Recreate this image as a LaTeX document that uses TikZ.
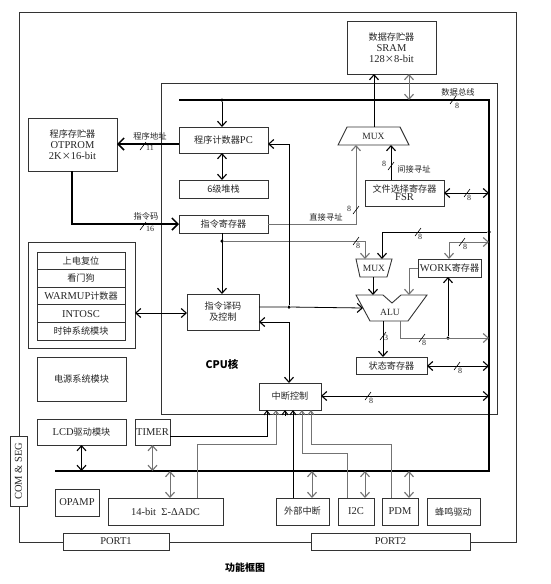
\documentclass[tikz,border=0pt]{standalone}
\usepackage{fontspec}
\setmainfont{Liberation Serif}
\newfontfamily\cjk{Noto Sans CJK SC}[Scale=0.87]
\newfontfamily\cjkb{Noto Sans CJK SC}
\usetikzlibrary{arrows.meta}
\newcommand\zh[1]{{\cjk #1}}
\newcommand\tickmark[2]{\draw[line width=0.6pt] ([shift={(-3,4)}]#1,#2) -- ([shift={(3,-4)}]#1,#2);}
\tikzset{
  box/.style={draw=black!80, line width=0.9pt, inner sep=0pt, outer sep=0pt, align=center, fill=white, text=black!85},
  frame/.style={draw=black!80, line width=0.8pt},
  ln/.style={line width=0.8pt, draw=black},
  gl/.style={line width=0.8pt, draw=black!55},
  busline/.style={line width=2.8pt, line join=miter},
  arr/.style={-{Straight Barb[length=5pt,width=9pt,line width=1.1pt]}},
  darr/.style={{Straight Barb[length=5pt,width=9pt,line width=1.1pt]}-{Straight Barb[length=5pt,width=9pt,line width=1.1pt]}},
  sarr/.style={-{Straight Barb[length=4pt,width=6pt,line width=1pt]}},
  tarr/.style={line width=2.8pt, -{Straight Barb[length=6pt,width=12pt,line width=1.5pt]}},
  dotn/.style={circle, fill=black, inner sep=0pt, minimum size=3.5pt},
  lbl/.style={font=\fontsize{9.5}{10.5}\selectfont, inner sep=0pt, text=black!85},
  num/.style={font=\fontsize{8}{9}\selectfont, inner sep=0pt, text=black!85},
}
\begin{document}
\begin{tikzpicture}[x=1pt,y=-1pt, font=\fontsize{10.5}{11}\selectfont]
\useasboundingbox (0,0) rectangle (551,584);

% outer frame and ports
\draw[frame] (19,12) rectangle (516,542);
\node[box, minimum width=106pt, minimum height=17pt] (port1) at (116,541.5) {PORT1};
\node[box, minimum width=159pt, minimum height=17pt] (port2) at (390.5,541.5) {PORT2};
\node[box, rotate=90, minimum width=70pt, minimum height=17pt] (com) at (18.5,471) {COM \& SEG};
\node[font=\cjkb\bfseries\fontsize{10}{12}\selectfont] (title) at (245,568) {功能框图};

% CPU core frame
\draw[frame] (161,83) rectangle (497,414);
\node[font=\cjkb\bfseries\fontsize{10.5}{12}\selectfont] (cpu) at (222,364) {CPU核};

% data bus
\coordinate (bTL) at (179,100);
\coordinate (bTR) at (489,100);
\coordinate (bBR) at (489,471);
\coordinate (bBL) at (55,471);
\draw[busline] (bTL) -- (bTR) -- (bBR) -- (bBL);
\node[lbl] (buslbl) at (458,92) {\zh{数据总线}};
\tickmark{453}{100}
\node[num] at (457,106) {8};

% memories
\node[box, minimum width=89pt, minimum height=53pt] (sram) at (391.5,47.5) {\zh{数据存贮器}\\SRAM\\128\zh{×}8-bit};
\node[box, minimum width=89pt, minimum height=53pt] (otp) at (72.5,144.5) {\zh{程序存贮器}\\OTPROM\\2K\zh{×}16-bit};

% CPU blocks
\node[box, minimum width=89pt, minimum height=26pt] (pc) at (223.5,140) {\zh{程序计数器}PC};
\node[box, minimum width=89pt, minimum height=18pt] (stack) at (223.5,189) {\zh{6级堆栈}};
\node[box, minimum width=89pt, minimum height=18pt] (ir) at (223.5,224) {\zh{指令寄存器}};
\node[box, minimum width=79pt, minimum height=26pt] (fsr) at (404.5,193) {\zh{文件选择寄存器}\\[-3pt]FSR};
\node[box, minimum width=72pt, minimum height=36pt] (dec) at (223,312) {\zh{指令译码}\\\zh{及控制}};
\node[box, minimum width=63pt, minimum height=18pt] (work) at (449.5,268) {WORK\zh{寄存器}};
\node[box, minimum width=71pt, minimum height=17pt] (stat) at (391.5,365.5) {\zh{状态寄存器}};
\node[box, minimum width=62pt, minimum height=27pt] (intc) at (290,396.5) {\zh{中断控制}};

% MUX 1
\draw[box] (347,127) -- (400,127) -- (409,145) -- (338,145) -- cycle;
\node[lbl] (mux1) at (373.5,136) {MUX};
\coordinate (m1top) at (374,127);
\coordinate (m1a) at (356,145);
\coordinate (m1b) at (391,145);
% MUX 2
\draw[box] (356,259) -- (392,259) -- (387,277) -- (360,277) -- cycle;
\node[lbl] (mux2) at (374,268) {MUX};
\coordinate (m2a) at (365,259);
\coordinate (m2b) at (382,259);
\coordinate (m2o) at (373,277);
% ALU
\draw[box] (356,295) -- (383,295) -- (392,303) -- (401,295) -- (427,295) -- (408,321) -- (370,321) -- cycle;
\node[lbl] (alu) at (390,312) {ALU};
\coordinate (alua) at (373,295);
\coordinate (alub) at (409,295);
\coordinate (aluin) at (363,308);
\coordinate (aluo1) at (383,321);
\coordinate (aluo2) at (400,321);

% clock group
\node[box, minimum width=107pt, minimum height=106pt] (clk) at (81.5,295) {};
\node[box, minimum width=88pt, minimum height=17.6pt] (r1) at (81,260.8) {\zh{上电复位}};
\node[box, minimum width=88pt, minimum height=17.6pt] (r2) at (81,278.4) {\zh{看门狗}};
\node[box, minimum width=88pt, minimum height=17.6pt] (r3) at (81,296) {WARMUP\zh{计数器}};
\node[box, minimum width=88pt, minimum height=17.6pt] (r4) at (81,313.6) {INTOSC};
\node[box, minimum width=88pt, minimum height=17.6pt] (r5) at (81,331.2) {\zh{时钟系统模块}};
\node[box, minimum width=89pt, minimum height=44pt] (pwr) at (81.5,379) {\zh{电源系统模块}};

% peripherals
\node[box, minimum width=89pt, minimum height=26pt] (lcd) at (81.5,432) {LCD\zh{驱动模块}};
\node[box, minimum width=35pt, minimum height=26pt] (timer) at (152.5,432) {TIMER};
\node[box, minimum width=44pt, minimum height=27pt] (opamp) at (77,502.5) {OPAMP};
\node[box, minimum width=115pt, minimum height=27pt] (adc) at (165.5,511.5) {14-bit\ \ Σ-ΔADC};
\node[box, minimum width=53pt, minimum height=27pt] (ext) at (302.5,511.5) {\zh{外部中断}};
\node[box, minimum width=36pt, minimum height=27pt] (i2c) at (356,511.5) {I2C};
\node[box, minimum width=36pt, minimum height=27pt] (pdm) at (400,511.5) {PDM};
\node[box, minimum width=53pt, minimum height=27pt] (buzz) at (453.5,511.5) {\zh{蜂鸣驱动}};

% ---- connectors ----
% bus -> PC
\node[dotn] (d1) at (222,100) {};
\draw[ln,arr] (d1) -- (d1 |- pc.north);
% SRAM <-> bus
\coordinate (sb) at (409,100);
\draw[gl,darr] (sb |- sram.south) -- (sb);
% MUX1 -> SRAM
\draw[ln,arr] (m1top) -- (m1top |- sram.south);
% PC -> OTPROM (program address)
\coordinate (pa) at (179,144);
\draw[tarr] (pa) -- (pa -| otp.east);
\node[lbl] at (150,136) {\zh{程序地址}};
\tickmark{143}{146}
\node[num] at (150,148) {11};
% OTPROM -> IR (instruction code)
\coordinate (ic) at (72,224);
\draw[tarr] (otp.south -| ic) -- (ic) -- (ic -| ir.west);
\node[lbl] at (146,216) {\zh{指令码}};
\tickmark{143}{226}
\node[num] at (150,229) {16};
% PC <-> stack
\coordinate (ps) at (222,153);
\draw[ln,darr] (ps |- pc.south) -- (ps |- stack.north);
% IR -> MUX1 (direct address)
\coordinate (ir1) at (268,224);
\draw[gl,arr] (ir1) -- (ir1 -| m1a) -- (m1a);
\node[lbl] at (326,217) {\zh{直接寻址}};
\tickmark{356}{210}
\node[num] at (349,209) {8};
% FSR -> MUX1 (indirect)
\draw[ln,arr] (m1b |- fsr.north) -- (m1b);
\tickmark{391}{166}
\node[num] at (384,164) {8};
\node[lbl] at (414,169) {\zh{间接寻址}};
% FSR <-> bus
\coordinate (fb) at (489,193);
\draw[ln,darr] (fsr.east) -- (fb);
\tickmark{467}{193}
\node[num] at (469,198) {8};
% IR -> decoder
\node[dotn] (d2) at (222,241) {};
\draw[ln,arr] (d2 |- ir.south) -- (d2 |- dec.north);
% IR -> MUX2
\draw[gl,arr] (d2) -- (d2 -| m2a) -- (m2a);
\tickmark{356}{241}
\node[num] at (358,246) {8};
% bus -> MUX2
\node[dotn] (d3) at (489,232) {};
\draw[ln,arr] (d3) -- (d3 -| m2b) -- (m2b);
\tickmark{418}{232}
\node[num] at (420,237) {8};
% bus <-> WORK
\coordinate (wb) at (489,242);
\coordinate (wt) at (449,242);
\draw[gl,darr] (wb) -- (wt) -- (wt |- work.north);
\tickmark{462}{242}
\node[num] at (465,247) {8};
% WORK -> ALU
\coordinate (wl) at (409,268);
\draw[gl,arr] (work.west) -- (wl) -- (alub);
% MUX2 -> ALU
\draw[ln,arr] (m2o) -- (alua);
% decoder -> ALU
\coordinate (dr) at (259,307);
\node[dotn] (d4) at (289,307) {};
\draw[ln,arr] (dr) -- (d4) -- (aluin);
% -> PC
\coordinate (pcr) at (289,144);
\draw[ln,arr] (d4) -- (pcr) -- (pcr -| pc.east);
% decoder <-> interrupt control
\coordinate (di) at (289,322);
\draw[ln,darr] (di -| dec.east) -- (di) -- (di |- intc.north);
% ALU -> status
\draw[ln,arr] (aluo1) -- (aluo1 |- stat.north);
\tickmark{383}{336}
\node[num] at (386,338) {3};
% ALU -> bus, -> WORK
\coordinate (ab) at (400,338);
\coordinate (abb) at (489,338);
\node[dotn] (d5) at (448,338) {};
\draw[gl,arr] (aluo2) -- (ab) -- (abb);
\draw[ln,arr] (d5) -- (d5 |- work.south);
\tickmark{422}{338}
\node[num] at (424,343) {8};
% status <-> bus
\coordinate (sbus) at (489,366);
\draw[ln,darr] (stat.east |- sbus) -- (sbus);
\tickmark{457}{366}
\node[num] at (460,371) {8};
% intc <-> bus
\coordinate (ibus) at (489,396);
\draw[ln,darr] (intc.east |- ibus) -- (ibus);
\tickmark{368}{396}
\node[num] at (371,401) {8};
% clock group <-> decoder
\coordinate (cd) at (135,313);
\draw[ln,darr] (cd) -- (cd -| dec.west);

% interrupt sources
\coordinate (i1) at (267,436);
\draw[ln,sarr] (timer.east |- i1) -- (i1) -- (i1 |- intc.south);
\coordinate (i2a) at (197,444);
\coordinate (i2) at (276,444);
\draw[gl,sarr] (i2a |- adc.north) -- (i2a) -- (i2) -- (i2 |- intc.south);
\coordinate (i3) at (285,416);
\draw[ln,sarr] (i3) -- (i3 |- intc.south);
\coordinate (i4) at (293,498);
\draw[ln,sarr] (i4) -- (i4 |- intc.south);
\coordinate (i5a) at (347,453);
\coordinate (i5) at (302,453);
\draw[gl,sarr] (i5a |- i2c.north) -- (i5a) -- (i5) -- (i5 |- intc.south);
\coordinate (i6a) at (391,444);
\coordinate (i6) at (311,444);
\draw[gl,sarr] (i6a |- pdm.north) -- (i6a) -- (i6) -- (i6 |- intc.south);

% peripherals <-> bus
\draw[ln,darr] (lcd.south) -- (lcd.south |- bBL);
\draw[gl,darr] (timer.south) -- (timer.south |- bBL);
\coordinate (ab1) at (170,471);
\draw[gl,darr] (ab1) -- (ab1 |- adc.north);
\coordinate (eb) at (312,471);
\draw[gl,darr] (eb) -- (eb |- ext.north);
\coordinate (ib) at (365,471);
\draw[gl,darr] (ib) -- (ib |- i2c.north);
\coordinate (pb) at (409,471);
\draw[gl,darr] (pb) -- (pb |- pdm.north);
\end{tikzpicture}
\end{document}
